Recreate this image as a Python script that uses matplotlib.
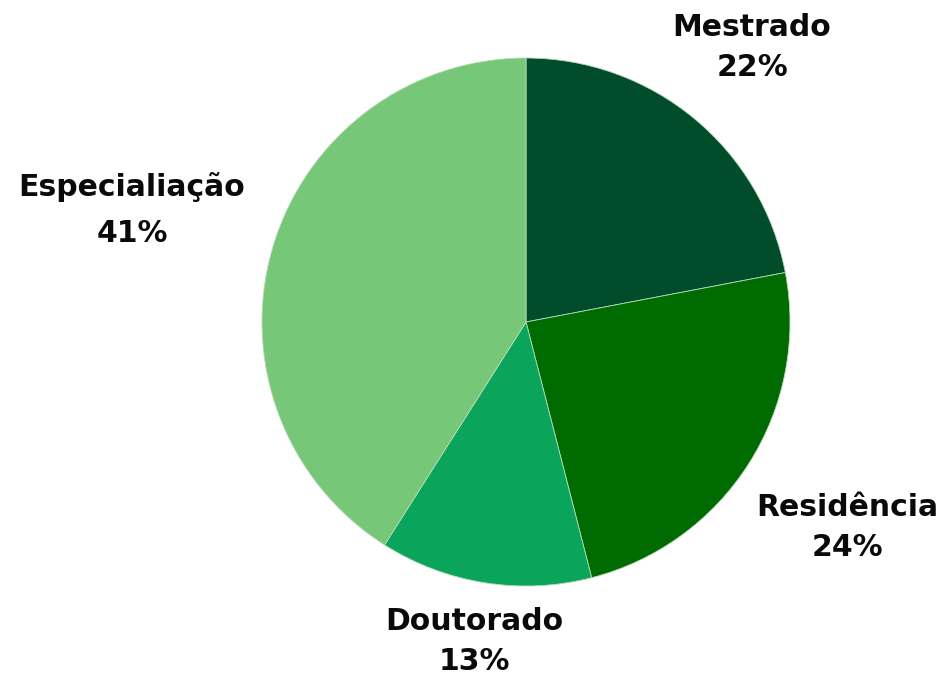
import matplotlib
matplotlib.use('Agg')
import matplotlib.pyplot as plt

# data
categories = ['Mestrado', 'Residência', 'Doutorado', 'Especialiação']
shares = [22, 24, 13, 41]
colors = ['#004c2b', '#006b00', '#0aa55a', '#77c779']

# label positions in pixels (x, name y, pct y from top)
label_pos = [(752, 28, 67), (847, 508, 548), (474, 622, 662), (132, 187, 234)]

W, H = 946, 675
fig = plt.figure(figsize=(W / 100, H / 100), dpi=100)

cx, cy, r = 526, 322, 264
ax = fig.add_axes([(cx - r) / W, 1 - (cy + r) / H, 2 * r / W, 2 * r / H])
ax.pie(shares, colors=colors, startangle=90, counterclock=False,
       wedgeprops=dict(edgecolor='#b5d9b5', linewidth=0.6))
ax.set_aspect('auto')
ax.set_xlim(-1, 1)
ax.set_ylim(-1, 1)

for cat, val, (px, py1, py2) in zip(categories, shares, label_pos):
    fig.text(px / W, 1 - py1 / H, cat, ha='center', va='center',
             fontsize=21.5, fontweight='bold', color='#0a0a0a')
    fig.text(px / W, 1 - py2 / H, f'{val}%', ha='center', va='center',
             fontsize=21.5, fontweight='bold', color='#0a0a0a')

fig.savefig('out.png', dpi=100)
